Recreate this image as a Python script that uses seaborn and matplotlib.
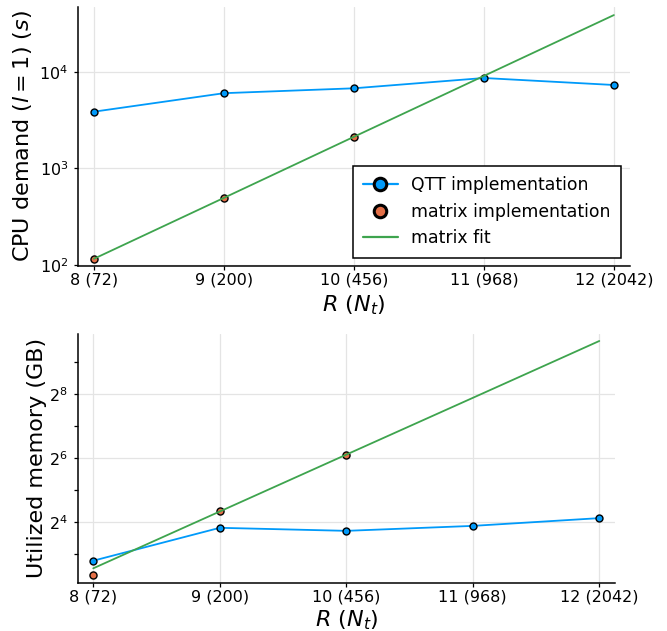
import matplotlib
matplotlib.use("Agg")
import matplotlib.pyplot as plt
from matplotlib.lines import Line2D
from matplotlib.ticker import FixedLocator, FixedFormatter, NullFormatter
import seaborn as sns
import pandas as pd

# Problem size: R and corresponding number of time steps N_t
R = [8, 9, 10, 11, 12]
Nt = [72, 200, 456, 968, 2042]
R_matrix = [8, 9, 10]

# CPU demand (s) for l = 1
cpu_qtt = [3855, 5990, 6730, 8600, 7280]
cpu_matrix = [116, 498, 2128]
cpu_fit = [116, 495, 2120, 9040, 38500]

# Utilized memory (GB)
mem_qtt = [6.9, 14.1, 13.2, 14.7, 17.4]
mem_matrix = [5.03, 20.4, 68.3]
mem_fit = [5.85, 20.1, 69.1, 237, 815]

xtick_labels = [f"{r} ({n})" for r, n in zip(R, Nt)]

BLUE = "#009AFA"
ORANGE = "#E36F47"
GREEN = "#3EA44E"

sns.set_theme(style="ticks")
plt.rcParams["font.family"] = ["DejaVu Sans"]
plt.rcParams["mathtext.fontset"] = "dejavusans"
plt.rcParams["text.color"] = "black"
plt.rcParams["axes.labelcolor"] = "black"

fig = plt.figure(figsize=(6.67, 6.31), dpi=100)
ax1 = fig.add_axes([0.1169, 0.5785, 0.9445 - 0.1169, 0.9889 - 0.5785])
ax2 = fig.add_axes([0.1165, 0.0765, 0.922 - 0.1165, 0.4707 - 0.0765])

qtt_kw = dict(color=BLUE, linewidth=1.3, marker="o", markersize=5,
              markeredgecolor="black", markeredgewidth=1.0, zorder=3)
mat_kw = dict(color=ORANGE, s=26, edgecolor="black", linewidth=1.0, zorder=4)
fit_kw = dict(color=GREEN, linewidth=1.3, zorder=5)


def draw_panel(ax, qtt, mat, fit):
    df_qtt = pd.DataFrame({"R": R, "v": qtt})
    df_mat = pd.DataFrame({"R": R_matrix, "v": mat})
    df_fit = pd.DataFrame({"R": R, "v": fit})
    sns.lineplot(data=df_qtt, x="R", y="v", ax=ax, legend=False, **qtt_kw)
    sns.scatterplot(data=df_mat, x="R", y="v", ax=ax, legend=False, **mat_kw)
    sns.lineplot(data=df_fit, x="R", y="v", ax=ax, legend=False, **fit_kw)
    ax.set_xlim(7.877, 12.124)
    ax.set_xticks(R)
    ax.set_xticklabels(xtick_labels)
    ax.grid(True, which="major", color="#e4e4e4", linewidth=0.9)
    ax.set_axisbelow(True)
    for side in ("top", "right"):
        ax.spines[side].set_visible(False)
    for side in ("left", "bottom"):
        ax.spines[side].set_color("black")
        ax.spines[side].set_linewidth(1.1)
    ax.tick_params(axis="both", which="both", direction="out", length=3,
                   width=0.9, color="black", labelsize=11.5, labelcolor="black")
    ax.tick_params(axis="x", pad=2)
    ax.tick_params(axis="y", pad=4)
    ax.set_xlabel(r"$R\ (N_t)$", fontsize=16)
    ax.xaxis.set_label_coords(0.5, -0.105)


# CPU demand panel
draw_panel(ax1, cpu_qtt, cpu_matrix, cpu_fit)
ax1.set_yscale("log")
ax1.set_ylim(10 ** 1.99, 10 ** 4.669)
ax1.yaxis.set_major_locator(FixedLocator([1e2, 1e3, 1e4]))
ax1.yaxis.set_major_formatter(FixedFormatter([r"$10^{2}$", r"$10^{3}$", r"$10^{4}$"]))
ax1.yaxis.set_minor_locator(FixedLocator([]))
ax1.set_ylabel(r"CPU demand ($l = 1$) ($s$)", fontsize=16)
ax1.yaxis.set_label_coords(-0.079, 0.5)

handles = [
    Line2D([], [], color=BLUE, linewidth=1.6, marker="o", markersize=9,
           markerfacecolor=BLUE, markeredgecolor="black", markeredgewidth=2.2),
    Line2D([], [], linestyle="none", marker="o", markersize=9,
           markerfacecolor=ORANGE, markeredgecolor="black", markeredgewidth=2.2),
    Line2D([], [], color=GREEN, linewidth=1.6),
]
leg = ax1.legend(handles, ["QTT implementation", "matrix implementation", "matrix fit"],
                 loc="lower right", bbox_to_anchor=(0.984, 0.032), fontsize=12.4,
                 frameon=True, fancybox=False, framealpha=1, edgecolor="black",
                 handlelength=2.0, handletextpad=0.8, labelspacing=0.5,
                 borderpad=0.6, borderaxespad=0)
leg.get_frame().set_linewidth(1.1)

# Memory panel
draw_panel(ax2, mem_qtt, mem_matrix, mem_fit)
ax2.set_yscale("log", base=2)
ax2.set_ylim(2 ** 2.097, 2 ** 9.89)
ax2.yaxis.set_major_locator(FixedLocator([2 ** 4, 2 ** 6, 2 ** 8]))
ax2.yaxis.set_major_formatter(FixedFormatter([r"$2^{4}$", r"$2^{6}$", r"$2^{8}$"]))
ax2.yaxis.set_minor_locator(FixedLocator([2 ** 3, 2 ** 5, 2 ** 7, 2 ** 9]))
ax2.yaxis.set_minor_formatter(NullFormatter())
ax2.set_ylabel("Utilized memory (GB)", fontsize=16)
ax2.yaxis.set_label_coords(-0.057, 0.5)

fig.savefig("out.png", dpi=100)
